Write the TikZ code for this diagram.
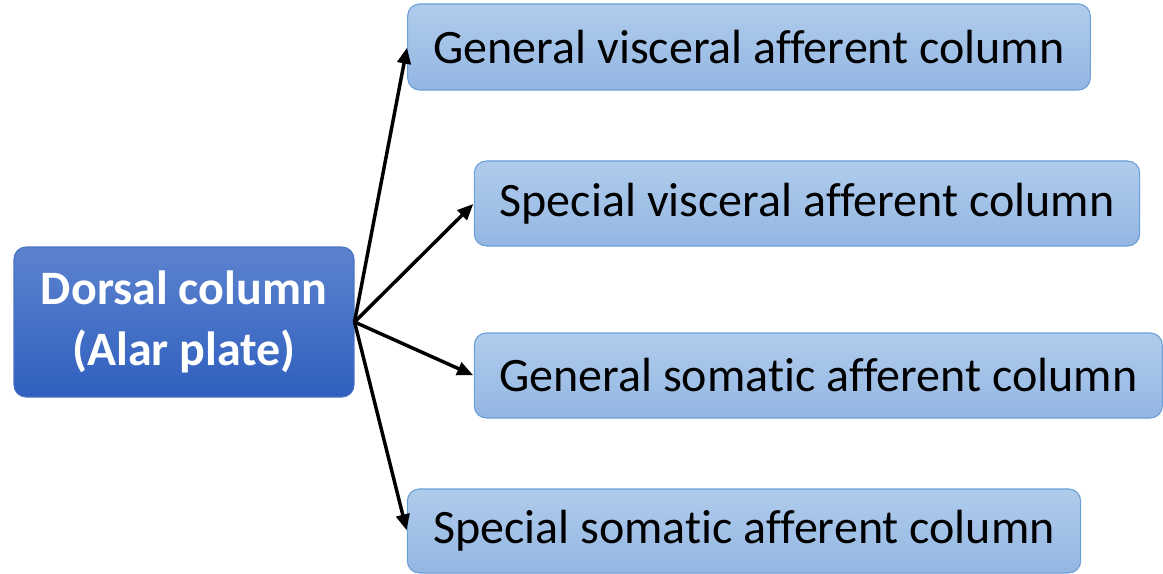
\documentclass[tikz,border=0pt]{standalone}
\usepackage{fontspec}
\setmainfont{Carlito}[RawFeature=-liga]
\usetikzlibrary{arrows.meta}
\definecolor{darkTop}{HTML}{5D83CF}
\definecolor{darkBot}{HTML}{2F5FBE}
\definecolor{darkLine}{HTML}{4A72C4}
\definecolor{liteTop}{HTML}{B0CCEC}
\definecolor{liteBot}{HTML}{93B6E2}
\definecolor{liteLine}{HTML}{6A9FD8}
\tikzset{
  srcbox/.style={rounded corners=9pt, draw=darkLine, line width=0.8pt, top color=darkTop, bottom color=darkBot,
    text=white, font=\fontsize{36}{46}\selectfont\bfseries, align=center, inner sep=0pt},
  colbox/.style={rounded corners=9pt, draw=liteLine, line width=0.8pt, top color=liteTop, bottom color=liteBot,
    text=black, font=\fontsize{36}{43}\selectfont, align=center, inner sep=0pt},
  link/.style={line width=2.6pt, -{Triangle[length=12pt, width=10pt]}, shorten >=0.5pt}
}
\begin{document}
\begin{tikzpicture}[x=0.75pt, y=-0.75pt]
\useasboundingbox (0,0) rectangle (1163,574);
\node[srcbox, minimum width=255pt, minimum height=112.5pt] (L) at (184,322) {Dorsal column\\(Alar plate)};
\node[colbox, minimum width=512pt, minimum height=64.5pt] (B1) at (749,47) {General visceral afferent column};
\node[colbox, minimum width=499pt, minimum height=63.75pt] (B2) at (807,203.5) {Special visceral afferent column};
\node[colbox, minimum width=516pt, minimum height=63.75pt] (B3) at (818.3,375.5) {General somatic afferent column};
\node[colbox, minimum width=505pt, minimum height=63pt] (B4) at (744,531) {Special somatic afferent column};
\draw[link] (L.east) -- (B1.west);
\draw[link] (L.east) -- (B2.west);
\draw[link] (L.east) -- (B3.west);
\draw[link] (L.east) -- (B4.west);
\end{tikzpicture}
\end{document}
